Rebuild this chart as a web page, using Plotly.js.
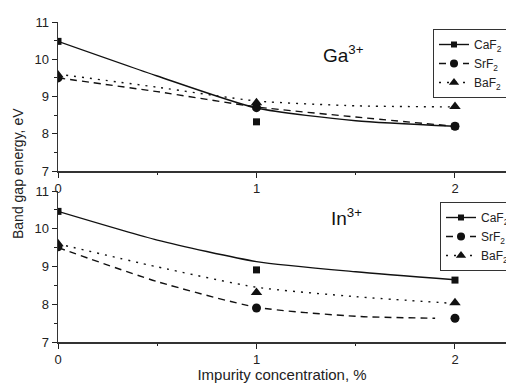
<!DOCTYPE html>
<html>
<head>
<meta charset="utf-8">
<script src="https://cdn.plot.ly/plotly-3.0.1.min.js"></script>
<style>html,body{margin:0;padding:0;background:#fff}#chart{width:506px;height:383px}</style>
</head>
<body>
<div id="chart"></div>
<script>
// Measured data points (x = impurity concentration, %)
const conc = [0, 1, 2];
const gaCaF2 = [10.48, 8.32, 8.2];
const gaSrF2 = [9.5, 8.7, 8.2];
const gaBaF2 = [9.58, 8.83, 8.73];
const inCaF2 = [10.46, 8.91, 8.64];
const inSrF2 = [9.52, 7.9, 7.63];
const inBaF2 = [9.6, 8.31, 8.04];

// Fitted curves
const fitX = [0, 0.5, 1, 1.5, 2];
const gaCaF2Fit = [10.48, 9.55, 8.69, 8.35, 8.2];
const gaSrF2Fit = [9.5, 9.13, 8.72, 8.45, 8.2];
const gaBaF2Fit = [9.6, 9.25, 8.88, 8.75, 8.72];
const inCaF2Fit = [10.46, 9.7, 9.13, 8.86, 8.65];
const inSrFitX = [0, 0.5, 1, 1.5, 1.9];
const inSrF2Fit = [9.5, 8.6, 7.92, 7.68, 7.63];
const inBaF2Fit = [9.6, 8.99, 8.45, 8.2, 8.02];

const names = ['CaF<sub>2</sub>', 'SrF<sub>2</sub>', 'BaF<sub>2</sub>'];
const symbols = ['square', 'circle', 'triangle-up'];
const msizes = [7, 9, 10];
const dashes = ['solid', '7px,5px', '2px,6px'];

const traces = [];
function panel(xa, ya, leg, pts, fits, fitXs) {
  for (let i = 0; i < 3; i++) {
    traces.push({x: fitXs[i], y: fits[i], xaxis: xa, yaxis: ya, mode: 'lines',
      line: {color: '#111', width: 1.4, dash: dashes[i], shape: 'spline', smoothing: 0.6},
      showlegend: false, hoverinfo: 'skip'});
    traces.push({x: conc, y: pts[i], xaxis: xa, yaxis: ya, mode: 'markers',
      marker: {symbol: symbols[i], size: msizes[i], color: '#111'},
      showlegend: false});
    traces.push({x: [null], y: [null], xaxis: xa, yaxis: ya, mode: 'lines+markers', name: names[i],
      legend: leg,
      line: {color: '#111', width: 1.4, dash: dashes[i]},
      marker: {symbol: symbols[i], size: msizes[i] - 1, color: '#111'}});
  }
}
panel('x', 'y', 'legend', [gaCaF2, gaSrF2, gaBaF2], [gaCaF2Fit, gaSrF2Fit, gaBaF2Fit], [fitX, fitX, fitX]);
panel('x2', 'y2', 'legend2', [inCaF2, inSrF2, inBaF2], [inCaF2Fit, inSrF2Fit, inBaF2Fit], [fitX, inSrFitX, fitX]);

const FONT = 'Liberation Sans, Arial, sans-serif';
const tickFont = {family: FONT, size: 13, color: '#222'};
function xax(anchor, title) {
  const a = {domain: [58/506, 1], range: [0, 2.257], anchor: anchor, automargin: false,
    tickvals: [0, 1, 2], ticktext: ['0', '1', '2'], ticks: 'outside', ticklen: 5, tickwidth: 1, tickcolor: '#222',
    minor: {tickvals: [0.5, 1.5], ticks: 'outside', ticklen: 2, tickcolor: '#222'},
    showline: true, linecolor: '#333', linewidth: 1.5, showgrid: false, zeroline: false,
    tickfont: tickFont};
  if (title) a.title = {text: title, font: {family: FONT, size: 15, color: '#222'}, standoff: 4};
  return a;
}
function yax(anchor, dom) {
  return {domain: dom, range: [7, 11], anchor: anchor, automargin: false,
    tickvals: [7, 8, 9, 10, 11], ticks: 'outside', ticklen: 5, tickwidth: 1, tickcolor: '#222',
    minor: {tickvals: [7.5, 8.5, 9.5, 10.5], ticks: 'outside', ticklen: 3, tickcolor: '#222'},
    showline: true, linecolor: '#333', linewidth: 1.5, showgrid: false, zeroline: false,
    tickfont: tickFont};
}
const legStyle = {xanchor: 'left', yanchor: 'top', bgcolor: '#fff', bordercolor: '#333', borderwidth: 1,
  font: {family: FONT, size: 12, color: '#222'}, tracegroupgap: 0, itemwidth: 30};

const layout = {
  width: 506, height: 383, margin: {l: 0, r: 0, t: 0, b: 0, autoexpand: false},
  paper_bgcolor: '#fff', plot_bgcolor: '#fff',
  xaxis: xax('y'),
  yaxis: yax('x', [212/383, 361/383]),
  xaxis2: xax('y2', 'Impurity concentration, %'),
  yaxis2: yax('x2', [41/383, 192/383]),
  legend: Object.assign({x: 433/506, y: 354/383}, legStyle),
  legend2: Object.assign({x: 440/506, y: 181/383}, legStyle),
  annotations: [
    {text: 'Ga<sup>3+</sup>', xref: 'paper', yref: 'paper', x: 343/506, y: (383-54)/383,
      xanchor: 'center', yanchor: 'middle', showarrow: false,
      font: {family: FONT, size: 19, color: '#111'}},
    {text: 'In<sup>3+</sup>', xref: 'paper', yref: 'paper', x: 346/506, y: (383-217)/383,
      xanchor: 'center', yanchor: 'middle', showarrow: false,
      font: {family: FONT, size: 19, color: '#111'}},
    {text: 'Band gap energy, eV', xref: 'paper', yref: 'paper', x: 18/506, y: (383-174)/383,
      xanchor: 'center', yanchor: 'middle', showarrow: false,
      textangle: -90, font: {family: FONT, size: 14, color: '#222'}}
  ]
};
Plotly.newPlot('chart', traces, layout, {displayModeBar: false, staticPlot: true});
</script>
</body>
</html>
